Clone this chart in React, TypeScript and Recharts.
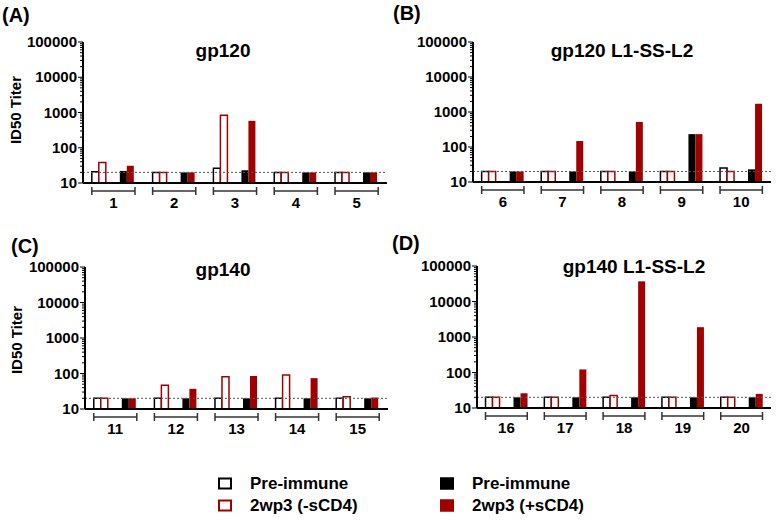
import React from "react";
import { BarChart, Bar, XAxis, YAxis, ReferenceLine } from "recharts";

const panelCodes = ["(A)", "(B)", "(C)", "(D)"];
const panelTitles = ["gp120", "gp120 L1-SS-L2", "gp140", "gp140 L1-SS-L2"];
const groupLabels = [
  ["1", "2", "3", "4", "5"],
  ["6", "7", "8", "9", "10"],
  ["11", "12", "13", "14", "15"],
  ["16", "17", "18", "19", "20"],
];

// ID50 titers (log scale)
const preOpen = [
  [21, 20, 26, 20, 20],
  [20, 20, 20, 20, 25],
  [20, 20, 20, 20, 20],
  [20, 20, 20, 20, 20],
];
const minusCD4 = [
  [38, 20, 830, 20, 20],
  [20, 20, 20, 20, 20],
  [20, 47, 81, 90, 22],
  [20, 20, 22.5, 20, 20],
];
const preFilled = [
  [22, 20, 23, 20, 20],
  [20, 20, 20, 233, 23],
  [20, 20, 20, 20, 20],
  [20, 20, 20, 20, 20],
];
const plusCD4 = [
  [31, 20, 580, 20, 20],
  [20, 148, 520, 233, 1720],
  [20, 37, 85, 74, 21],
  [26, 122, 37000, 1890, 25],
];

const majorTicks = [10, 100, 1000, 10000, 100000];
const minorTicks = [
  20, 30, 40, 50, 60, 70, 80, 90,
  200, 300, 400, 500, 600, 700, 800, 900,
  2000, 3000, 4000, 5000, 6000, 7000, 8000, 9000,
  20000, 30000, 40000, 50000, 60000, 70000, 80000, 90000,
];
const cutoff = 20;

const RED = "#a00000";
const FONT = "'Liberation Sans', Arial, sans-serif";

const frames = [
  { left: 0, top: 0, axisX: 83, plotTop: 42, plotBottom: 183, plotRight: 387 },
  { left: 391, top: 0, axisX: 473, plotTop: 42, plotBottom: 182, plotRight: 771 },
  { left: 0, top: 230, axisX: 85, plotTop: 267, plotBottom: 409, plotRight: 388 },
  { left: 391, top: 230, axisX: 477, plotTop: 266, plotBottom: 408, plotRight: 771 },
];
const titlePos = [
  { x: 223, y: 50 },
  { x: 622, y: 50 },
  { x: 223, y: 269 },
  { x: 634, y: 266 },
];
const codePos = [
  { x: 2, y: 15 },
  { x: 393, y: 13 },
  { x: 11, y: 246 },
  { x: 392, y: 243 },
];

const allTicks = [...majorTicks, ...minorTicks].sort((a, b) => a - b);

function LogTick(props: any) {
  const { x, y, payload } = props;
  const major = majorTicks.includes(payload.value);
  return (
    <g>
      <line x1={x} x2={x - (major ? 5 : 3)} y1={y} y2={y} stroke="#000" strokeWidth={1} />
      {major && (
        <text x={x - 6} y={y} dy={5} textAnchor="end" fontSize={15} fontWeight="bold" fontFamily={FONT} fill="#000">
          {payload.value}
        </text>
      )}
    </g>
  );
}

function BracketTick(props: any) {
  const { x, y, payload, half } = props;
  return (
    <g>
      <line x1={x - half} x2={x + half} y1={y + 8} y2={y + 8} stroke="#333" strokeWidth={1.5} />
      <line x1={x - half} x2={x - half} y1={y + 4} y2={y + 12} stroke="#333" strokeWidth={1.5} />
      <line x1={x + half} x2={x + half} y1={y + 4} y2={y + 12} stroke="#333" strokeWidth={1.5} />
      <text x={x} y={y + 25} textAnchor="middle" fontSize={15} fontWeight="bold" fontFamily={FONT} fill="#000">
        {payload.value}
      </text>
    </g>
  );
}

function Panel({ i }: { i: number }) {
  const f = frames[i];
  const W = 391;
  const H = 230;
  const xh = 34;
  const half = ((f.plotRight - f.axisX) / 5) * 0.355;
  const data = groupLabels[i].map((g, k) => ({
    g,
    preOpen: preOpen[i][k],
    minus: minusCD4[i][k],
    preFilled: preFilled[i][k],
    plus: plusCD4[i][k],
  }));
  return (
    <div style={{ position: "absolute", left: f.left, top: f.top }}>
      <BarChart
        width={W}
        height={H}
        data={data}
        margin={{ top: f.plotTop - f.top, right: f.left + W - f.plotRight, bottom: f.top + H - f.plotBottom - xh, left: 0 }}
        barCategoryGap="14.5%"
        barGap={0}
      >
        <XAxis
          dataKey="g"
          height={xh}
          interval={0}
          axisLine={{ stroke: "#000", strokeWidth: 2 }}
          tickLine={false}
          tickSize={0}
          tickMargin={0}
          tick={(p: any) => <BracketTick {...p} half={half} />}
        />
        <YAxis
          scale="log"
          domain={[10, 100000]}
          allowDataOverflow
          ticks={allTicks}
          interval={0}
          width={f.axisX - f.left}
          axisLine={{ stroke: "#000", strokeWidth: 2 }}
          tickLine={false}
          tickSize={0}
          tickMargin={0}
          tick={(p: any) => <LogTick {...p} />}
        />
        <ReferenceLine y={cutoff} stroke="#555" strokeDasharray="2 2" strokeWidth={1} />
        <Bar dataKey="preOpen" fill="#fff" stroke="#000" strokeWidth={1.5} isAnimationActive={false} />
        <Bar dataKey="minus" fill="#fff" stroke={RED} strokeWidth={1.5} isAnimationActive={false} />
        <Bar dataKey="gapA" fill="none" isAnimationActive={false} />
        <Bar dataKey="gapB" fill="none" isAnimationActive={false} />
        <Bar dataKey="preFilled" fill="#000" isAnimationActive={false} />
        <Bar dataKey="plus" fill={RED} isAnimationActive={false} />
      </BarChart>
    </div>
  );
}

function Label({ x, y, text, size, center = false, rotate = false }: any) {
  return (
    <div
      style={{
        position: "absolute",
        left: x,
        top: y,
        transform: `translate(${center || rotate ? "-50%" : "0"}, -50%)${rotate ? " rotate(-90deg)" : ""}`,
        fontFamily: FONT,
        fontWeight: "bold",
        fontSize: size,
        whiteSpace: "nowrap",
        color: "#000",
        lineHeight: 1,
      }}
    >
      {text}
    </div>
  );
}

function LegendItem({ x, y, fill, border, text }: any) {
  return (
    <div style={{ position: "absolute", left: x, top: y, display: "flex", alignItems: "center", transform: "translateY(-50%)" }}>
      <div style={{ width: 10, height: 8, background: fill, border: `2px solid ${border}` }} />
      <span style={{ marginLeft: 18, fontFamily: FONT, fontWeight: "bold", fontSize: 17, lineHeight: 1 }}>{text}</span>
    </div>
  );
}

export default function App() {
  return (
    <div style={{ position: "absolute", left: 0, top: 0, width: 782, height: 524, background: "#fff", overflow: "hidden" }}>
      {[0, 1, 2, 3].map((i) => (
        <Panel key={i} i={i} />
      ))}
      {panelTitles.map((t, i) => (
        <Label key={t} x={titlePos[i].x} y={titlePos[i].y} text={t} size={19} center />
      ))}
      {panelCodes.map((t, i) => (
        <Label key={t} x={codePos[i].x} y={codePos[i].y} text={t} size={20} />
      ))}
      <Label x={15} y={110} text="ID50 Titer" size={15} rotate />
      <Label x={16} y={340} text="ID50 Titer" size={15} rotate />
      <LegendItem x={218} y={483} fill="#fff" border="#000" text="Pre-immune" />
      <LegendItem x={218} y={505} fill="#fff" border={RED} text="2wp3 (-sCD4)" />
      <LegendItem x={440} y={483} fill="#000" border="#000" text="Pre-immune" />
      <LegendItem x={440} y={505} fill={RED} border={RED} text="2wp3 (+sCD4)" />
    </div>
  );
}
